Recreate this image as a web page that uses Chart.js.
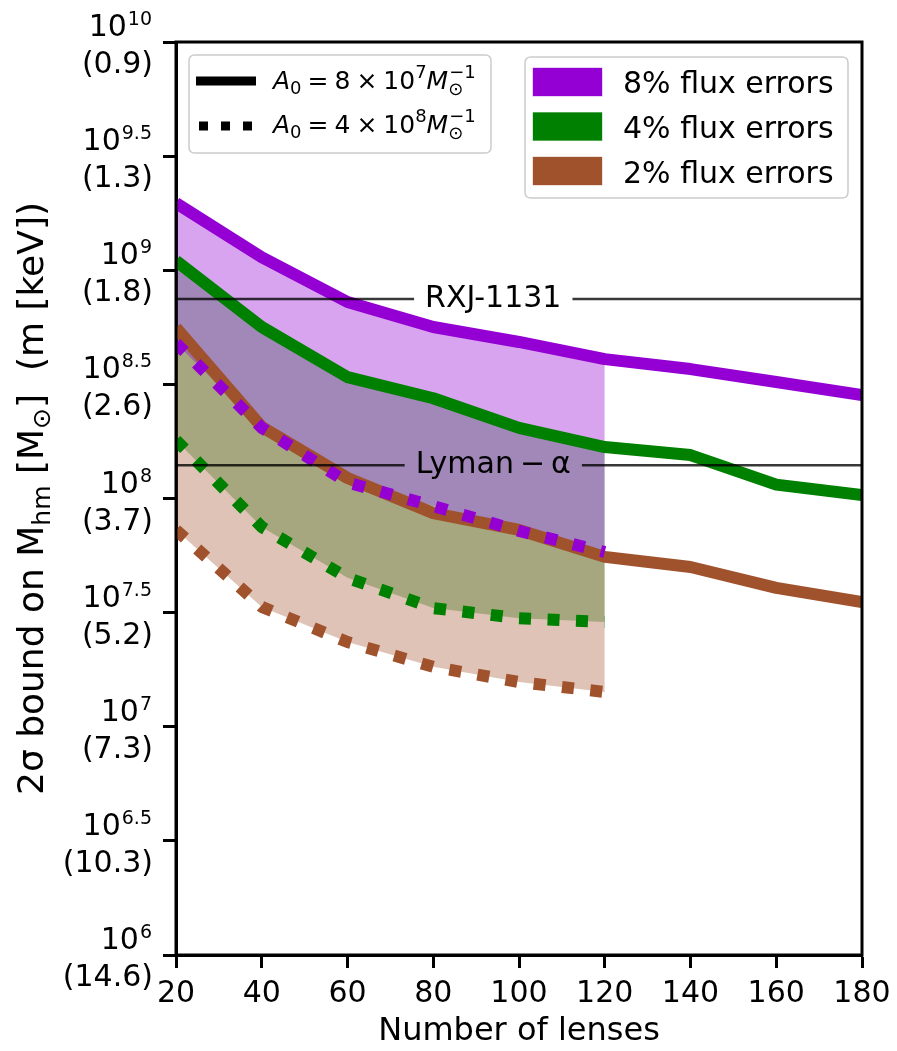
<!DOCTYPE html>
<html>
<head>
<meta charset="utf-8">
<script src="https://cdn.jsdelivr.net/npm/chart.js@4.4.0/dist/chart.umd.min.js"></script>
<style>
  html, body { margin: 0; padding: 0; background: #fff; }
  canvas { display: block; }
</style>
</head>
<body>
<canvas id="boundChart" width="897" height="1051"></canvas>
<script>
// Number of lenses in the sample
const lensCounts = [20, 40, 60, 80, 100, 120, 140, 160, 180];

// 2 sigma bound on M_hm [M_sun], A0 = 8e7 M_sun^-1 (solid)
const solid8 = [1.97e9, 1.14e9, 7.26e8, 5.64e8, 4.85e8, 4.08e8, 3.69e8, 3.24e8, 2.84e8];
const solid4 = [1.10e9, 5.64e8, 3.40e8, 2.75e8, 2.04e8, 1.68e8, 1.55e8, 1.15e8, 1.035e8];
const solid2 = [5.60e8, 2.06e8, 1.23e8, 8.63e7, 7.28e7, 5.55e7, 5.01e7, 4.06e7, 3.52e7];

// A0 = 4e8 M_sun^-1 (dotted), only computed up to 120 lenses
const dotted8 = [4.79e8, 2.04e8, 1.175e8, 9.27e7, 7.21e7, 5.83e7];
const dotted4 = [1.80e8, 7.50e7, 4.49e7, 3.31e7, 2.99e7, 2.88e7];
const dotted2 = [7.28e7, 3.35e7, 2.35e7, 1.83e7, 1.57e7, 1.42e7];

const seriesNames = ['8% flux errors', '4% flux errors', '2% flux errors'];
const seriesColors = ['#9400D3', '#008000', '#A0522D'];
const bandColors = ['rgba(148,0,211,0.36)', 'rgba(0,128,0,0.34)', 'rgba(160,82,45,0.35)'];

// y ticks: log10(M_hm) and the matching thermal relic mass in keV
const tickExponents = ['6', '6.5', '7', '7.5', '8', '8.5', '9', '9.5', '10'];
const tickKeV = ['14.6', '10.3', '7.3', '5.2', '3.7', '2.6', '1.8', '1.3', '0.9'];
const xTicks = [20, 40, 60, 80, 100, 120, 140, 160, 180];

// existing bounds shown as horizontal reference lines
const refNames = ['RXJ-1131', 'Lyman\u2009\u2212\u2009\u03b1'];
const refValues = [7.48e8, 1.40e8];
const refLabelX = 94;

const FONT = '"DejaVu Sans"';
const solids = [solid8, solid4, solid2];
const dotteds = [dotted8, dotted4, dotted2];

function toPoints(vals) {
    return vals.map((v, i) => ({ x: lensCounts[i], y: v }));
}

const datasets = [];
// 0-2: solid lines, 3-5: dotted lines
solids.forEach((vals, i) => {
    datasets.push({
        data: toPoints(vals),
        borderColor: seriesColors[i],
        borderWidth: 12,
        borderJoinStyle: 'round',
        pointRadius: 0,
        fill: false,
        clip: 0,
        order: 20 - i
    });
});
dotteds.forEach((vals, i) => {
    datasets.push({
        data: toPoints(vals),
        borderColor: seriesColors[i],
        borderWidth: 12,
        borderDash: [12, 16.5],
        borderCapStyle: 'butt',
        borderJoinStyle: 'round',
        pointRadius: 0,
        fill: false,
        clip: 0,
        order: 12 - i
    });
});
// 6-8: shaded bands between solid and dotted, green at the bottom
const bandOrder = [28, 30, 29];
dotteds.forEach((vals, i) => {
    datasets.push({
        data: toPoints(solids[i].slice(0, vals.length)),
        borderWidth: 0,
        borderColor: 'rgba(0,0,0,0)',
        backgroundColor: bandColors[i],
        pointRadius: 0,
        fill: 3 + i,
        order: bandOrder[i]
    });
});

function roundBox(ctx, x, y, w, h, r) {
    ctx.beginPath();
    ctx.moveTo(x + r, y);
    ctx.lineTo(x + w - r, y);
    ctx.quadraticCurveTo(x + w, y, x + w, y + r);
    ctx.lineTo(x + w, y + h - r);
    ctx.quadraticCurveTo(x + w, y + h, x + w - r, y + h);
    ctx.lineTo(x + r, y + h);
    ctx.quadraticCurveTo(x, y + h, x, y + h - r);
    ctx.lineTo(x, y + r);
    ctx.quadraticCurveTo(x, y, x + r, y);
    ctx.closePath();
    ctx.fillStyle = 'rgba(255,255,255,0.8)';
    ctx.fill();
    ctx.strokeStyle = '#cccccc';
    ctx.lineWidth = 1.5;
    ctx.stroke();
}

// A_0 = m x 10^p M_sun^-1
function drawA0(ctx, x, y, mant, pow) {
    const big = '25px ' + FONT, it = 'italic 25px ' + FONT, sm = '18px ' + FONT;
    let cx = x;
    const put = (t, f, dy) => {
        ctx.font = f;
        ctx.fillText(t, cx, y + dy);
        cx += ctx.measureText(t).width;
    };
    put('A', it, 0);
    put('0', sm, 5);
    cx += 6;
    put('=', big, 0);
    cx += 6;
    put(mant, big, 0);
    cx += 6;
    put('\u00d7', big, 0);
    cx += 6;
    put('10', big, 0);
    put(pow, sm, -11);
    put('M', it, 0);
    ctx.font = sm;
    ctx.fillText('\u2299', cx, y + 6);
    ctx.fillText('\u22121', cx + 1, y - 11);
}

const decor = {
    id: 'decor',
    afterDatasetsDraw(chart) {
        const ctx = chart.ctx, area = chart.chartArea;
        const xs = chart.scales.x, ys = chart.scales.y;
        ctx.save();
        ctx.font = '30px ' + FONT;
        ctx.textAlign = 'center';
        ctx.textBaseline = 'alphabetic';
        refValues.forEach((v, i) => {
            const y = ys.getPixelForValue(v);
            const cx = xs.getPixelForValue(refLabelX);
            const half = ctx.measureText(refNames[i]).width / 2 + 11;
            ctx.strokeStyle = 'rgba(0,0,0,0.78)';
            ctx.lineWidth = 2.5;
            ctx.beginPath();
            ctx.moveTo(area.left, y);
            ctx.lineTo(cx - half, y);
            ctx.moveTo(cx + half, y);
            ctx.lineTo(area.right, y);
            ctx.stroke();
            ctx.fillStyle = '#000';
            ctx.fillText(refNames[i], cx, y + 8);
        });
        ctx.restore();
    },
    afterDraw(chart) {
        const ctx = chart.ctx, area = chart.chartArea;
        const xs = chart.scales.x, ys = chart.scales.y;
        ctx.save();
        ctx.fillStyle = '#000';

        // frame
        ctx.strokeStyle = '#000';
        ctx.lineWidth = 3;
        ctx.strokeRect(area.left, area.top, area.right - area.left, area.bottom - area.top);

        // y tick labels: 10^e over (keV)
        const rightX = 153;
        tickExponents.forEach((e, i) => {
            const y = ys.getPixelForValue(Math.pow(10, parseFloat(e)));
            ctx.textAlign = 'left';
            ctx.font = '30px ' + FONT;
            const wb = ctx.measureText('10').width;
            ctx.font = '19px ' + FONT;
            const we = ctx.measureText(e).width;
            const x0 = rightX - wb - we - 2;
            ctx.font = '30px ' + FONT;
            ctx.fillText('10', x0, y - 6);
            ctx.font = '19px ' + FONT;
            ctx.fillText(e, x0 + wb + 1, y - 17);
            ctx.font = '30px ' + FONT;
            ctx.textAlign = 'right';
            ctx.fillText('(' + tickKeV[i] + ')', rightX, y + 31);
        });

        // x tick labels
        ctx.textAlign = 'center';
        ctx.font = '30px ' + FONT;
        xTicks.forEach(t => {
            ctx.fillText(String(t), xs.getPixelForValue(t), 1002);
        });

        // axis titles
        ctx.font = '32px ' + FONT;
        ctx.fillText('Number of lenses', (area.left + area.right) / 2, 1040);

        const parts = [
            ['2\u03c3 bound on M', 36, 0],
            ['hm', 25, 7],
            [' [M', 36, 0],
            ['\u2299', 25, 7],
            [']  (m [keV])', 36, 0]
        ];
        let total = 0;
        parts.forEach(p => { ctx.font = p[1] + 'px ' + FONT; total += ctx.measureText(p[0]).width; });
        ctx.translate(43, (area.top + area.bottom) / 2);
        ctx.rotate(-Math.PI / 2);
        ctx.textAlign = 'left';
        let px = -total / 2;
        parts.forEach(p => {
            ctx.font = p[1] + 'px ' + FONT;
            ctx.fillText(p[0], px, p[2]);
            px += ctx.measureText(p[0]).width;
        });
        ctx.setTransform(1, 0, 0, 1, 0, 0);

        // line style legend
        roundBox(ctx, 189, 55, 302, 98, 6);
        ctx.strokeStyle = '#000';
        ctx.lineWidth = 9;
        ctx.lineCap = 'butt';
        ctx.beginPath();
        ctx.moveTo(196, 81);
        ctx.lineTo(256, 81);
        ctx.stroke();
        ctx.setLineDash([9, 13]);
        ctx.beginPath();
        ctx.moveTo(199, 126);
        ctx.lineTo(256, 126);
        ctx.stroke();
        ctx.setLineDash([]);
        ctx.fillStyle = '#000';
        ctx.textAlign = 'left';
        drawA0(ctx, 273, 89, '8', '7');
        drawA0(ctx, 273, 133, '4', '8');

        // flux error legend
        roundBox(ctx, 525, 57, 323, 141, 6);
        seriesNames.forEach((name, i) => {
            const top = 68 + i * 44.5;
            ctx.fillStyle = seriesColors[i];
            ctx.fillRect(533, top, 69, 28);
            ctx.strokeStyle = bandColors[i];
            ctx.lineWidth = 1;
            ctx.strokeRect(533, top, 69, 28);
            ctx.fillStyle = '#000';
            ctx.font = '30px ' + FONT;
            ctx.fillText(name, 623, 93 + i * 45);
        });
        ctx.restore();
    }
};

const axisGrid = {
    drawOnChartArea: false,
    drawTicks: true,
    tickLength: 13,
    tickWidth: 3,
    tickColor: '#000'
};

new Chart(document.getElementById('boundChart'), {
    type: 'line',
    data: { datasets: datasets },
    options: {
        responsive: false,
        devicePixelRatio: 1,
        animation: false,
        events: [],
        layout: { padding: { top: 42, right: 35, left: 0, bottom: 0 } },
        plugins: { legend: { display: false }, tooltip: { enabled: false } },
        scales: {
            x: {
                type: 'linear',
                min: 20,
                max: 180,
                afterBuildTicks: s => { s.ticks = xTicks.map(v => ({ value: v })); },
                afterFit: s => { s.height = 96; },
                ticks: { display: false },
                grid: axisGrid,
                border: { display: true, color: '#000', width: 3 }
            },
            y: {
                type: 'logarithmic',
                min: 1e6,
                max: 1e10,
                afterBuildTicks: s => {
                    s.ticks = tickExponents.map(e => ({ value: Math.pow(10, parseFloat(e)) }));
                },
                afterFit: s => { s.width = 176; },
                ticks: { display: false },
                grid: axisGrid,
                border: { display: true, color: '#000', width: 3 }
            }
        }
    },
    plugins: [decor]
});
</script>
</body>
</html>
